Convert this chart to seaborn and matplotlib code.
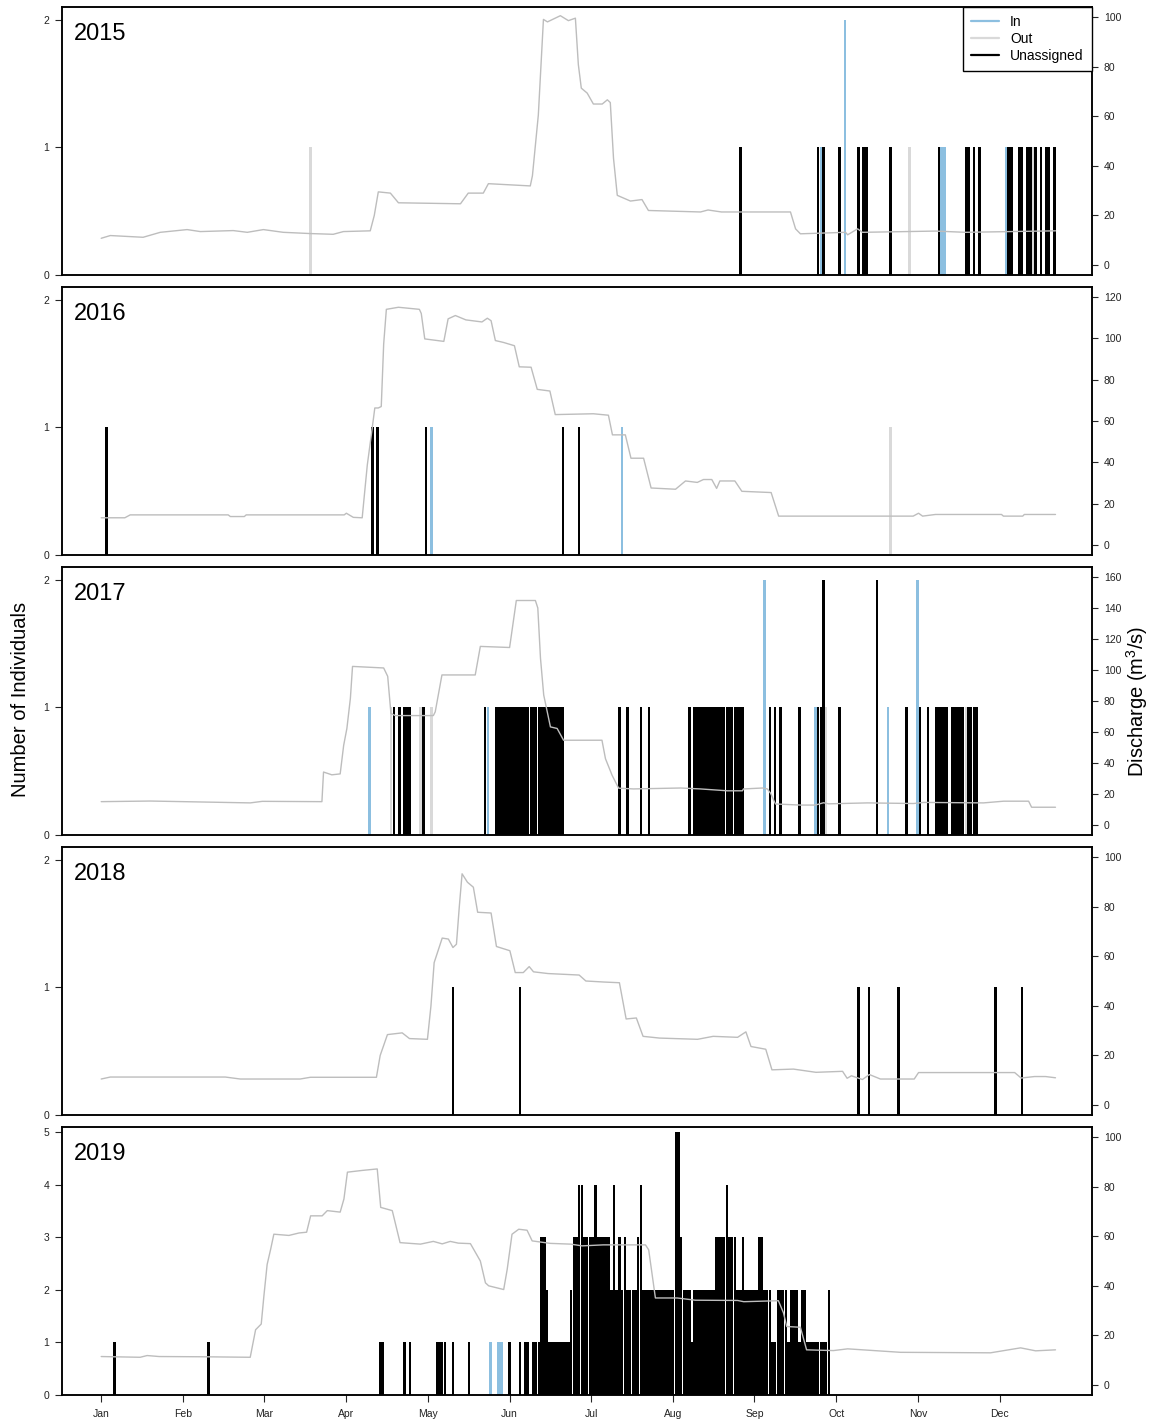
import pandas as pd
import seaborn as sns
import matplotlib.pyplot as plt
from matplotlib.lines import Line2D

sns.set_theme(style="ticks")
plt.rcParams['font.family'] = ['Liberation Sans', 'DejaVu Sans']
plt.rcParams['mathtext.fontset'] = 'custom'
plt.rcParams['mathtext.rm'] = 'Liberation Sans'
plt.rcParams['mathtext.it'] = 'Liberation Sans:italic'
plt.rcParams['text.color'] = 'black'

# colours
c_in = "#8cbfe0"
c_out = "#d9d9d9"
c_un = "#000000"
c_q = "#bdbdbd"

years = [2015, 2016, 2017, 2018, 2019]
n_max = [2, 2, 2, 2, 5]
q_max = [100, 120, 160, 100, 100]
months = ["Jan", "Feb", "Mar", "Apr", "May", "Jun", "Jul", "Aug", "Sep", "Oct", "Nov", "Dec"]
month_day = [1, 31.4, 61.8, 92.25, 122.7, 153.1, 183.5, 213.9, 244.3, 274.75, 305.2, 335.6]

# ---- discharge (day of year, m3/s) ----
q_day_2015 = [1, 4.4, 16.6, 23, 33, 37.9, 50.2, 55.4, 61.4, 68.8, 78.9, 87.4, 91.2, 101.2, 102.7,
              104.2, 108.7, 111.7, 134.8, 137.7, 143.3, 145.2, 160.8, 161.6, 163.8, 165.7, 167.2,
              172, 175, 177.6, 178.7, 179.8, 182, 184.3, 187.6, 189.5, 190.6, 191.8, 193.2, 198.1,
              202.4, 204.8, 224.2, 227, 232, 257.7, 259.6, 261.4, 278.2, 279, 282.7, 284.5, 311.7,
              322.9, 356.4]
q_val_2015 = [10.8, 11.9, 11.2, 13.2, 14.3, 13.5, 13.9, 13.2, 14.3, 13.2, 12.7, 12.4, 13.5, 13.8, 20,
              29.5, 29.0, 25.1, 24.7, 29, 29, 32.8, 31.9, 36, 60.5, 99, 98,
              100.5, 98.5, 99.5, 80.8, 71.3, 69.3, 64.9, 64.9, 66.6, 65.5, 43, 28.1, 25.8,
              26.4, 22, 21.4, 22.2, 21.4, 21.4, 14.6, 12.6, 13.2, 12.2, 14.6, 13.2, 13.7,
              13.2, 13.8]

q_day_2016 = [1, 9.8, 11.8, 48.3, 49.1, 54.3, 55, 91.5, 92.3, 94.9, 98.2, 99, 100.1, 101.6, 102.9,
              104.2, 105.3, 106.2, 107.2, 111.7, 119.5, 120.2, 121.5, 128.6, 130.2, 132.9, 136.8,
              142.8, 144.8, 146.2, 147.8, 150.8, 154.9, 156.7, 161.1, 163.4, 168.1, 170.1, 184.3,
              189.9, 191.4, 196.2, 198.3, 203, 205.8, 214.9, 218.6, 223, 225.3, 228.4, 230.2,
              231.4, 237, 239.6, 250.5, 253.3, 303.4, 305.4, 306.9, 311.7, 336.3, 337, 344.2,
              344.8, 356.4]
q_val_2016 = [13.2, 13.2, 14.6, 14.6, 13.8, 13.8, 14.6, 14.6, 15.4, 13.4, 13.2, 24, 38.7, 53.3, 66.3,
              66.3, 67, 97.2, 114, 115, 114, 112, 99.7, 98.5, 109.4, 111, 108.9,
              107.9, 109.7, 108.5, 98.9, 98, 96.4, 86.2, 86, 75.3, 74.5, 63.1, 63.5,
              62.8, 53.3, 53.3, 42, 42, 27.6, 27, 31, 30.3, 31.7, 31.7, 27.4,
              31, 31, 26, 25.4, 14, 14, 15.4, 14, 14.8, 14.8, 14, 14,
              14.8, 14.8]

q_day_2017 = [1, 19.3, 56.5, 61, 83.2, 83.8, 86.9, 90, 91.3, 92.5, 93.8, 94.6, 106.2, 107.7, 108.9,
              110.5, 124.7, 125.4, 127.9, 140.3, 142.2, 153.1, 155.6, 162.7, 163.6, 164.6, 165.8,
              168.3, 170.8, 173.2, 187.5, 188.8, 191.3, 193.7, 199.2, 216.7, 224.2, 234.2, 239.8,
              240.2, 247.3, 249.1, 250.3, 252.1, 261.4, 267, 270, 271.9, 286.4, 303.5, 307.3,
              329.6, 337.1, 346.4, 347.5, 356.4]
q_val_2017 = [15.1, 15.5, 14.3, 15.3, 15.1, 34.2, 32.4, 33, 51.4, 62.3, 81.7, 102.3, 101.3, 95.9, 72,
              70.6, 70.6, 73, 96.8, 96.8, 115.2, 114.5, 144.8, 144.8, 140, 107.6, 83.9,
              63.3, 62.3, 54.7, 54.7, 42.8, 32, 23.8, 23.3, 23.9, 23.3, 22.1, 22.1,
              23.3, 23.9, 23.3, 20.5, 13.6, 12.9, 12.9, 14.4, 13.7, 14.3, 13.9, 14.6,
              14.3, 15.4, 15.4, 11.5, 11.5]

q_day_2018 = [1, 4.4, 47.2, 52.8, 75.1, 78.9, 103.5, 104.9, 107.6, 113.1, 115.8, 122.5, 123.8, 125,
              128, 130.3, 132, 133.3, 134.4, 135.4, 137.4, 139.6, 141.2, 146.2, 148.2, 153.2,
              155.2, 158.2, 160.4, 162, 167.4, 179, 181.5, 188, 194, 196.5, 200.3, 202.8, 208.9,
              223.1, 228.9, 238, 241.1, 243, 248.5, 250.8, 258.8, 267.2, 277.1, 278.8, 280.4,
              284.5, 287.1, 291.2, 303.8, 305.4, 341.2, 343.6, 348.6, 352.7, 356.4]
q_val_2018 = [10.5, 11.3, 11.3, 10.5, 10.5, 11.2, 11.2, 20, 28.4, 29.1, 26.8, 26.5, 39.9, 57.4,
              67.3, 66.9, 63.5, 64.8, 80.4, 93.2, 89.8, 87.8, 77.7, 77.4, 63.9, 62.2,
              53.4, 53.4, 55.8, 53.7, 53, 52.4, 50, 49.6, 49.3, 34.7, 35.1, 27.7, 27,
              26.5, 27.7, 27.3, 29.5, 23.6, 22.5, 14.2, 14.5, 13.2, 13.6, 10.8, 11.8,
              10.3, 12.3, 10.5, 10.5, 13.1, 13.1, 10.9, 11.5, 11.5, 11]

q_day_2019 = [1, 15.5, 18.1, 22.6, 39.7, 56.5, 58.5, 60.6, 61.6, 62.8, 64.1, 65.3, 70.9, 74.7, 77.5,
              79, 83.3, 85.2, 90, 91.4, 92.7, 98.2, 103.8, 105.1, 109.4, 112.3, 119.9, 124.7,
              128, 131, 134, 138.5, 140.3, 142.2, 144.1, 145.3, 150.9, 152.2, 154, 156.5, 159.6,
              161.5, 168.3, 175.8, 180.1, 188, 203.7, 204.9, 207.4, 215.5, 222.3, 238, 240.3,
              253.2, 255.1, 256.3, 261.4, 263.7, 273.7, 279, 298.7, 332.2, 343.4, 349, 356.4]
q_val_2019 = [11.5, 11.2, 11.9, 11.5, 11.4, 11.2, 22.3, 24.6, 36, 48.6, 54.7, 60.8, 60.3, 61.3, 61.6,
              68.2, 68.2, 70.3, 69.7, 75, 85.8, 86.5, 87.1, 71.6, 70.3, 57.4, 56.8, 57.9,
              56.9, 57.9, 57.2, 57, 53.6, 50, 41.2, 40, 38.5, 46.6, 60.8, 62.8, 62.4,
              58.1, 57.1, 56.8, 56.1, 56.5, 56.5, 54.5, 35.1, 35.1, 34.2, 34.1, 33.6,
              34, 29.1, 23.6, 23.3, 14.2, 13.9, 14.6, 13.2, 13.0, 15, 13.8, 14.2]

# ---- individuals per day: In / Out / Unassigned ----
in_day_2015 = [269, 278, 314, 315, 338]
in_n_2015 = [1, 2, 1, 1, 1]
out_day_2015 = [79, 302, 348]
out_n_2015 = [1, 1, 1]
un_day_2015 = [239, 268, 270, 276, 283, 285, 286, 295, 313, 323, 324, 326, 328, 339, 340, 343,
               344, 346, 347, 349, 351, 353, 354, 356]
un_n_2015 = [1] * len(un_day_2015)

in_day_2016 = [124, 195]
in_n_2016 = [1, 1]
out_day_2016 = [295]
out_n_2016 = [1]
un_day_2016 = [3, 102, 104, 122, 173, 179]
un_n_2016 = [1, 1, 1, 1, 1, 1]

in_day_2017 = [101, 145, 248, 267, 294, 305]
in_n_2017 = [1, 1, 2, 1, 1, 2]
out_day_2017 = [109, 120, 124, 271, 323]
out_n_2017 = [1, 1, 1, 1, 1]
un_day_2017 = [110, 112, 114, 115, 116, 121, 144,
               148, 149, 150, 151, 152, 153, 154, 155, 156, 157, 158, 159, 160, 161, 162, 163,
               164, 165, 166, 167, 168, 169, 170, 171, 172, 173,
               194, 197, 202, 205, 220,
               222, 223, 224, 225, 226, 227, 228, 229, 230, 231, 232, 233, 234, 235, 236, 237,
               238, 239, 240,
               250, 252, 254, 261, 268, 269, 270, 276, 290, 301, 306, 309,
               312, 313, 314, 315, 316, 318, 319, 320, 321, 322, 324, 325, 326, 327]
un_n_2017 = [1 if d not in (270, 290) else 2 for d in un_day_2017]

in_day_2018 = []
in_n_2018 = []
out_day_2018 = []
out_n_2018 = []
un_day_2018 = [132, 157, 283, 287, 298, 334, 344]
un_n_2018 = [1, 1, 1, 1, 1, 1, 1]

in_day_2019 = [146, 149, 150]
in_n_2019 = [1, 1, 1]
out_day_2019 = []
out_n_2019 = []
un_day_2019 = [6, 41, 105, 106, 114, 116, 126, 127, 128, 129, 132, 138, 153, 157, 159, 160,
               162, 163, 164, 165, 166, 167, 168, 169, 170, 171, 172, 173, 174, 175, 176, 177,
               178, 179, 180, 181, 182, 183, 184, 185, 186, 187, 188, 189, 190, 191, 192, 193,
               194, 195, 196, 197, 198, 199, 200, 201, 202, 203, 204, 205, 206, 207, 208, 209,
               210, 211, 212, 213, 214, 215, 216, 217, 218, 219, 220, 221, 222, 223, 224, 225,
               226, 227, 228, 229, 230, 231, 232, 233, 234, 235, 236, 237, 238, 239, 240, 241,
               242, 243, 244, 245, 246, 247, 248, 249, 250, 251, 252, 253, 254, 255, 256, 257,
               258, 259, 260, 261, 262, 263, 264, 265, 266, 267, 268, 269, 270, 271, 272]
un_n_2019 = [1, 1, 1, 1, 1, 1, 1, 1, 1, 1, 1, 1, 1, 1, 1, 1,
             1, 1, 1, 3, 3, 2, 1, 1, 1, 1, 1, 1, 1, 1, 2, 3,
             3, 4, 4, 3, 3, 3, 3, 4, 3, 3, 3, 3, 3, 2, 4, 2,
             3, 2, 3, 2, 2, 2, 2, 3, 4, 2, 2, 2, 2, 2, 2, 2,
             2, 2, 2, 2, 2, 5, 5, 3, 2, 2, 2, 1, 2, 2, 2, 2,
             2, 2, 2, 2, 3, 3, 3, 3, 4, 3, 3, 3, 2, 2, 3, 2,
             2, 2, 2, 2, 3, 3, 2, 2, 2, 1, 1, 2, 2, 2, 2, 1,
             2, 2, 2, 1, 2, 2, 1, 1, 1, 1, 1, 1, 1, 1, 2]

panels = {
    2015: (q_day_2015, q_val_2015, in_day_2015, in_n_2015, out_day_2015, out_n_2015, un_day_2015, un_n_2015),
    2016: (q_day_2016, q_val_2016, in_day_2016, in_n_2016, out_day_2016, out_n_2016, un_day_2016, un_n_2016),
    2017: (q_day_2017, q_val_2017, in_day_2017, in_n_2017, out_day_2017, out_n_2017, un_day_2017, un_n_2017),
    2018: (q_day_2018, q_val_2018, in_day_2018, in_n_2018, out_day_2018, out_n_2018, un_day_2018, un_n_2018),
    2019: (q_day_2019, q_val_2019, in_day_2019, in_n_2019, out_day_2019, out_n_2019, un_day_2019, un_n_2019),
}

fig = plt.figure(figsize=(11.51, 14.25), dpi=100)
bottoms_px = [275, 555, 835, 1115, 1395]

for i, yr in enumerate(years):
    qd, qv, ind, inn, outd, outn, und, unn = panels[yr]
    ax = fig.add_axes([62 / 1151, 1 - bottoms_px[i] / 1425, 1030 / 1151, 268 / 1425])

    # daily counts as narrow bars
    ax.bar(outd, outn, width=0.95, color=c_out, linewidth=0)
    ax.bar(und, unn, width=0.95, color=c_un, linewidth=0)
    ax.bar(ind, inn, width=0.95, color=c_in, linewidth=0)
    ax.set_xlim(-13.6, 370)
    ax.set_ylim(0, n_max[i] + 0.1)
    ax.set_yticks(range(n_max[i] + 1))
    ax.tick_params(axis='y', direction='out', length=5, width=0.8, labelsize=7.5, pad=4,
                   labelcolor='#222222')
    ax.text(0.012, 0.9, str(yr), transform=ax.transAxes, fontsize=17, ha='left', va='center')

    if i == len(years) - 1:
        ax.set_xticks(month_day)
        ax.set_xticklabels(months)
        ax.tick_params(axis='x', direction='out', length=5, width=0.8, labelsize=7.5, pad=5,
                       labelcolor='#222222')
    else:
        ax.tick_params(axis='x', bottom=False, labelbottom=False)

    # discharge on the right axis
    ax2 = ax.twinx()
    q = pd.DataFrame({'day': qd, 'Q': qv})
    sns.lineplot(data=q, x='day', y='Q', ax=ax2, color=c_q, linewidth=1.0, estimator=None)
    ax2.set_xlim(-13.6, 370)
    ax2.set_ylim(-0.04 * q_max[i], 1.04 * q_max[i])
    ax2.set_yticks(range(0, q_max[i] + 1, 20))
    ax2.set_xlabel('')
    ax2.set_ylabel('')
    ax2.tick_params(axis='y', direction='out', length=4.5, width=0.8, labelsize=7.5, pad=4,
                    labelcolor='#222222')
    ax.set_xlabel('')
    ax.set_ylabel('')
    for a in (ax, ax2):
        for s in a.spines.values():
            s.set_visible(True)
            s.set_linewidth(1.1)
            s.set_color('black')

    if i == 0:
        handles = [Line2D([0], [0], color=c_in, lw=1.6),
                   Line2D([0], [0], color=c_out, lw=1.6),
                   Line2D([0], [0], color=c_un, lw=1.6)]
        leg = ax2.legend(handles, ["In", "Out", "Unassigned"], loc='upper right',
                         bbox_to_anchor=(1, 1), borderaxespad=0, fancybox=False,
                         framealpha=1, edgecolor='black', fontsize=10, handlelength=2,
                         handletextpad=0.8, labelspacing=0.2, borderpad=0.6)
        leg.get_frame().set_linewidth(1.0)

fig.text(0.0174, 0.509, "Number of Individuals", rotation=90, ha='center', va='center', fontsize=14.5)
fig.text(0.988, 0.508, "Discharge (m$^3$/s)", rotation=90, ha='center', va='center', fontsize=14.5)

fig.savefig("out.png", dpi=100)
